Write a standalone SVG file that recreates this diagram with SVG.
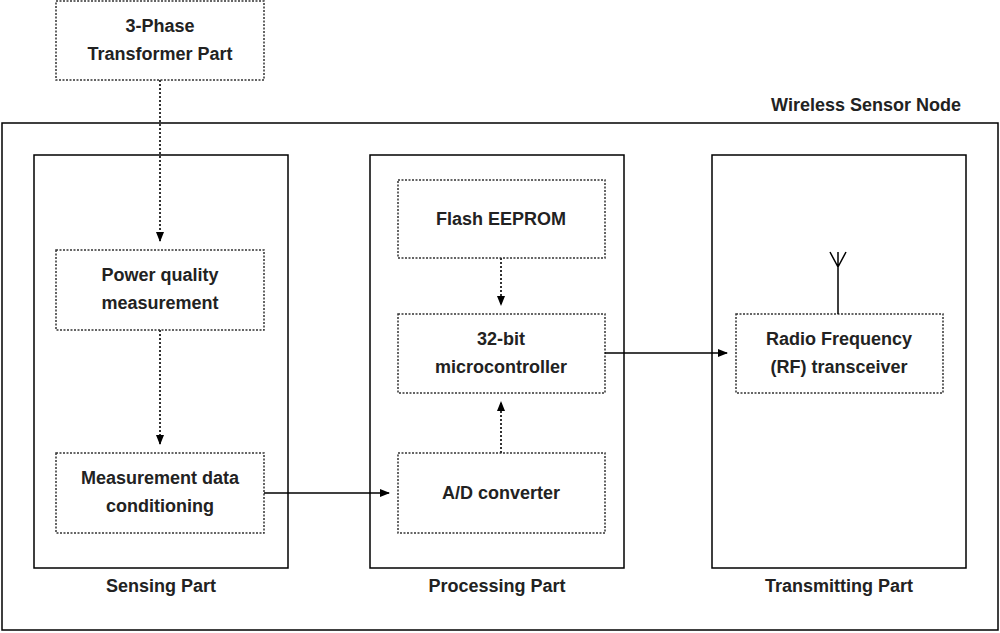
<svg xmlns="http://www.w3.org/2000/svg" width="1000" height="633" viewBox="0 0 1000 633">
<style>
.s{fill:none;stroke:#000;stroke-width:1.5}
.d{fill:#fff;stroke:#333;stroke-width:1.5;stroke-dasharray:2 1.5}
text{font-family:"Liberation Sans",Arial,sans-serif;font-weight:bold;font-size:18px;fill:#222;text-anchor:middle}
.dl{fill:none;stroke:#333;stroke-width:2;stroke-dasharray:2 2}
.sl{fill:none;stroke:#000;stroke-width:1.5}
</style>
<defs><marker id="a" markerWidth="10" markerHeight="8" refX="9" refY="4" orient="auto" markerUnits="userSpaceOnUse"><path d="M0,0L10,4L0,8z" fill="#000"/></marker></defs>
<rect width="1000" height="633" fill="#fff"/>
<g id="outer"><rect class="s" x="2" y="123" width="996" height="507"/><text x="866" y="111">Wireless Sensor Node</text></g>
<g id="sensing"><rect class="s" x="34" y="155" width="254" height="413"/><text x="161" y="592">Sensing Part</text></g>
<g id="processing"><rect class="s" x="370" y="155" width="254" height="413"/><text x="497" y="592">Processing Part</text></g>
<g id="transmitting"><rect class="s" x="712" y="155" width="254" height="413"/><text x="839" y="592">Transmitting Part</text></g>
<g id="transformer"><rect class="d" x="56" y="1" width="208" height="79"/><text x="160" y="32">3-Phase</text><text x="160" y="60">Transformer Part</text></g>
<g id="pq"><rect class="d" x="56" y="250" width="208" height="80"/><text x="160" y="281">Power quality</text><text x="160" y="309">measurement</text></g>
<g id="md"><rect class="d" x="56" y="453" width="208" height="80"/><text x="160" y="484">Measurement data</text><text x="160" y="512">conditioning</text></g>
<g id="flash"><rect class="d" x="398" y="180" width="207" height="78"/><text x="501" y="225">Flash EEPROM</text></g>
<g id="mcu"><rect class="d" x="398" y="314" width="207" height="79"/><text x="501" y="345">32-bit</text><text x="501" y="373">microcontroller</text></g>
<g id="adc"><rect class="d" x="398" y="453" width="207" height="80"/><text x="501" y="499">A/D converter</text></g>
<g id="rf"><rect class="d" x="736" y="314" width="207" height="79"/><text x="839" y="345">Radio Frequency</text><text x="839" y="373">(RF) transceiver</text></g>
<g id="connectors">
<path class="dl" d="M160,80V241" marker-end="url(#a)"/>
<path class="dl" d="M160,330V444" marker-end="url(#a)"/>
<path class="dl" d="M501,258V305" marker-end="url(#a)"/>
<path class="dl" d="M501,453V402" marker-end="url(#a)"/>
<path class="sl" d="M264,493H389" marker-end="url(#a)"/>
<path class="sl" d="M605,353H727" marker-end="url(#a)"/>
<path class="sl" d="M838,314V267M838,267L830,252M838,267L846,252M838,267V252" stroke="#444"/>
</g>
</svg>
